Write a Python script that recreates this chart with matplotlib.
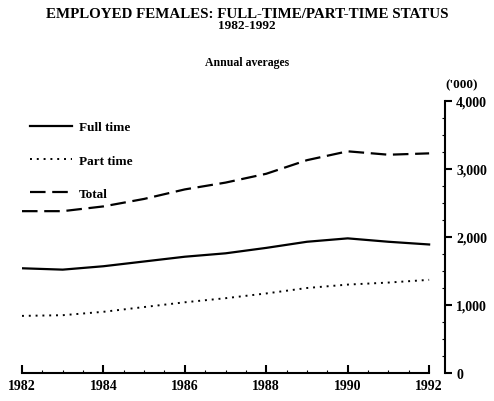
import matplotlib
matplotlib.use("Agg")
import matplotlib.pyplot as plt
from matplotlib.ticker import FuncFormatter, MultipleLocator

years = [1982, 1983, 1984, 1985, 1986, 1987, 1988, 1989, 1990, 1991, 1992]
full_time = [1540, 1520, 1570, 1640, 1710, 1760, 1840, 1930, 1980, 1930, 1890]
part_time = [840, 850, 900, 970, 1040, 1100, 1170, 1250, 1300, 1330, 1370]
total = [2380, 2380, 2450, 2560, 2700, 2800, 2930, 3130, 3260, 3210, 3230]

series_labels = ["Full time", "Part time", "Total"]
x_ticks = [1982, 1984, 1986, 1988, 1990, 1992]
y_ticks = [0, 1000, 2000, 3000, 4000]

plt.rcParams['font.family'] = ['Liberation Serif', 'DejaVu Serif']
plt.rcParams['font.weight'] = 'bold'

fig = plt.figure(figsize=(4.94, 4.02), dpi=100)
ax = fig.add_axes([22/494, 28/402, 423/494, 272/402])

ax.plot(years, full_time, color='black', lw=1.6, label=series_labels[0])
ax.plot(years, part_time, color='black', lw=1.4, linestyle=(0, (1, 2.5)), label=series_labels[1])
ax.plot(years, total, color='black', lw=1.6, linestyle=(0, (7, 3)), label=series_labels[2])

ax.set_xlim(1982, 1992.39)
ax.set_ylim(0, 4000)

for s in ['top', 'left']:
    ax.spines[s].set_visible(False)
ax.spines['bottom'].set_bounds(1982, 1992)
ax.spines['bottom'].set_linewidth(1.5)
ax.spines['right'].set_linewidth(1.5)

ax.set_xticks(x_ticks)
ax.xaxis.set_minor_locator(MultipleLocator(0.5))
ax.tick_params(axis='x', which='major', direction='in', length=6, width=1.5,
               labelsize=10, pad=4)
ax.tick_params(axis='x', which='minor', direction='in', length=2, width=0.8)

ax.yaxis.tick_right()
ax.set_yticks(y_ticks)
ax.yaxis.set_major_formatter(FuncFormatter(lambda v, p: f"{int(v):,}"))
ax.yaxis.set_minor_locator(MultipleLocator(250))
ax.tick_params(axis='y', which='major', direction='out', length=5, width=1.5,
               labelsize=10, pad=3)
ax.tick_params(axis='y', which='minor', direction='in', length=2, width=0.8)
for lab in ax.get_xticklabels() + ax.get_yticklabels():
    lab.set_fontweight('bold')

leg = ax.legend(loc='upper left', bbox_to_anchor=(-0.01, 0.97), frameon=False,
                handlelength=3.2, handletextpad=0.55, labelspacing=1.6,
                prop={'size': 9.5, 'weight': 'bold'})

fig.text(0.5, 1 - 14/402, "EMPLOYED FEMALES: FULL-TIME/PART-TIME STATUS",
         ha='center', va='center', fontsize=10.8, fontweight='bold')
fig.text(0.5, 1 - 26/402, "1982-1992", ha='center', va='center',
         fontsize=9.5, fontweight='bold')
fig.text(0.5, 1 - 63/402, "Annual averages", ha='center', va='center',
         fontsize=8.5, fontweight='bold')
fig.text(462/494, 1 - 85/402, "('000)", ha='center', va='center',
         fontsize=9.5, fontweight='bold')

fig.savefig("out.png", dpi=100)
